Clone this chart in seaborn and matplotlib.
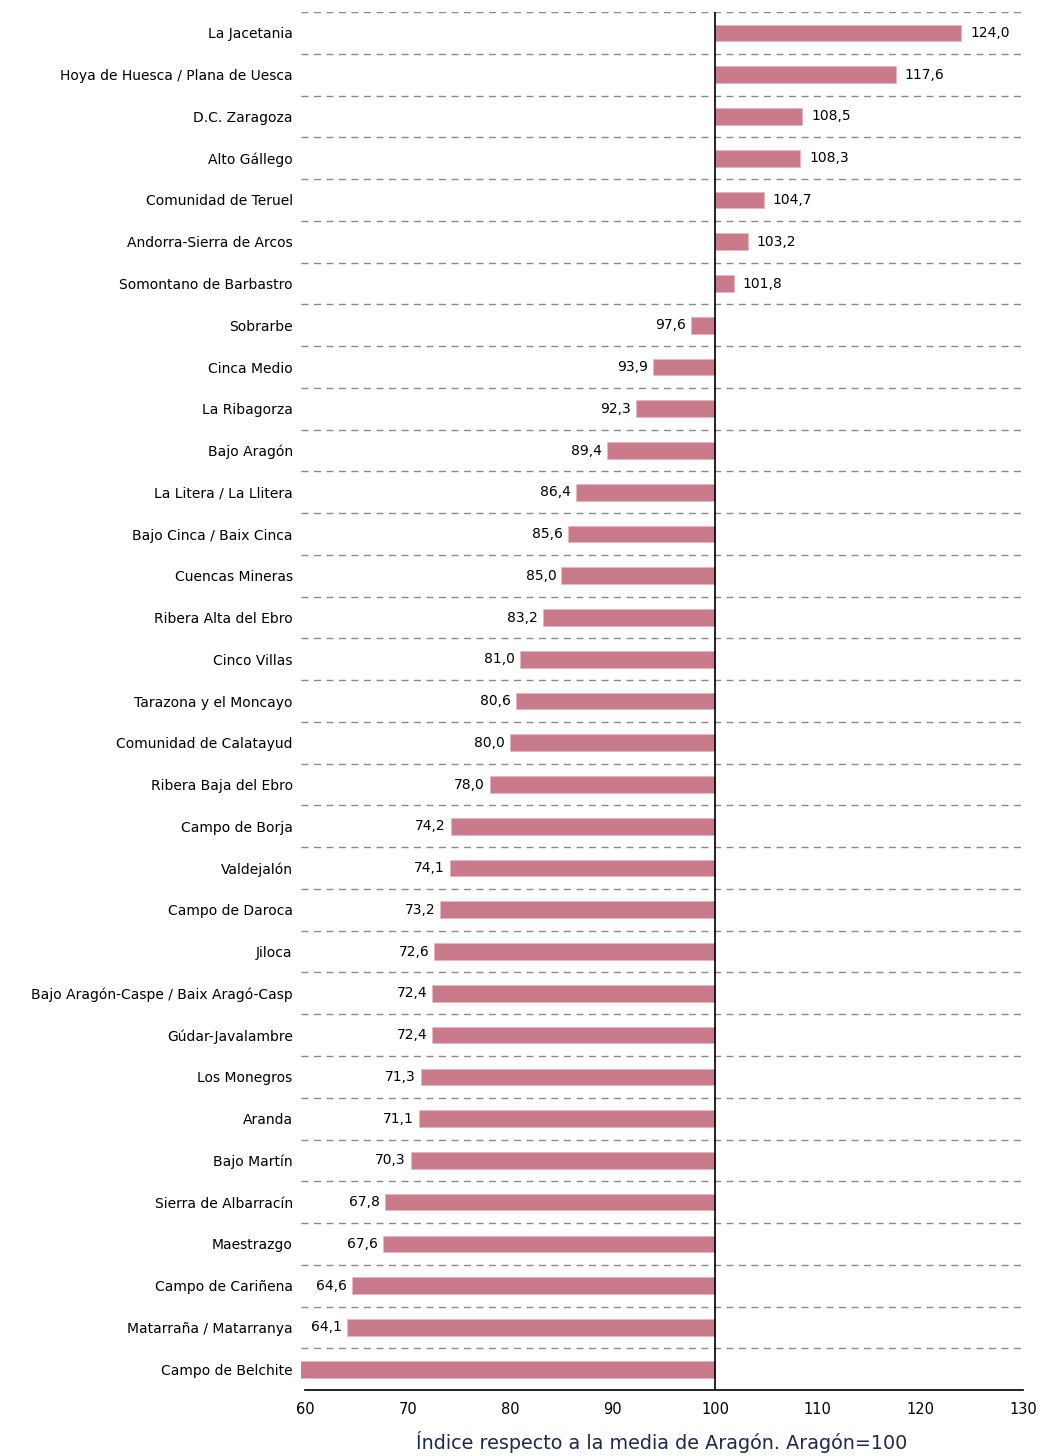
import numpy as np
import pandas as pd
import matplotlib
matplotlib.use("Agg")
import matplotlib.pyplot as plt
import seaborn as sns

# Data
comarcas = [
    "La Jacetania", "Hoya de Huesca / Plana de Uesca", "D.C. Zaragoza",
    "Alto Gállego", "Comunidad de Teruel", "Andorra-Sierra de Arcos",
    "Somontano de Barbastro", "Sobrarbe", "Cinca Medio", "La Ribagorza",
    "Bajo Aragón", "La Litera / La Llitera", "Bajo Cinca / Baix Cinca",
    "Cuencas Mineras", "Ribera Alta del Ebro", "Cinco Villas",
    "Tarazona y el Moncayo", "Comunidad de Calatayud", "Ribera Baja del Ebro",
    "Campo de Borja", "Valdejalón", "Campo de Daroca", "Jiloca",
    "Bajo Aragón-Caspe / Baix Aragó-Casp", "Gúdar-Javalambre", "Los Monegros",
    "Aranda", "Bajo Martín", "Sierra de Albarracín", "Maestrazgo",
    "Campo de Cariñena", "Matarraña / Matarranya", "Campo de Belchite",
]
indice = [
    124.0, 117.6, 108.5, 108.3, 104.7, 103.2, 101.8, 97.6, 93.9, 92.3,
    89.4, 86.4, 85.6, 85.0, 83.2, 81.0, 80.6, 80.0, 78.0, 74.2,
    74.1, 73.2, 72.6, 72.4, 72.4, 71.3, 71.1, 70.3, 67.8, 67.6,
    64.6, 64.1, 58.0,
]
base = 100
xticks = [60, 70, 80, 90, 100, 110, 120, 130]

df = pd.DataFrame({"comarca": comarcas, "indice": indice})
df["desvio"] = df["indice"] - base

bar_color = "#C97B8C"

sns.set_style("white")
plt.rcParams["font.family"] = ["DejaVu Sans"]

fig = plt.figure(figsize=(10.43, 14.56), dpi=100)
ax = fig.add_axes([0.2886, 0.0453, 0.6922, 0.9464])

sns.barplot(data=df, x="desvio", y="comarca", orient="h", color=bar_color,
            width=0.4, left=base, edgecolor="#E8B8C2", linewidth=0.6,
            saturation=1, ax=ax)

n = len(comarcas)
xmin, xmax = 59.6, 130
ax.set_xlim(xmin, xmax)
ax.set_ylim(n - 0.5, -0.5)

# dashed separators between categories
ax.set_yticks(np.arange(-0.5, n - 1, 1.0), minor=True)
ax.grid(False)
ax.grid(which="minor", axis="y", color="#8a8a8a", linestyle=(0, (5, 4)), linewidth=1)
ax.tick_params(axis="y", which="both", length=0, labelsize=10, pad=6, labelcolor="black")
ax.tick_params(axis="x", which="major", length=5, width=1.2, direction="out",
               labelsize=10.5, colors="black")
ax.set_xticks(xticks)
ax.set_xticklabels([str(t) for t in xticks])

for s in ["top", "right", "left"]:
    ax.spines[s].set_visible(False)
ax.spines["bottom"].set_color("black")
ax.spines["bottom"].set_linewidth(1.2)
ax.spines["bottom"].set_bounds(60, 130)

ax.axvline(base, color="black", linewidth=1.2, zorder=3)

# value labels (bars that run past the axis get no label)
for i, v in enumerate(indice):
    txt = f"{v:.1f}".replace(".", ",")
    if v >= base:
        ax.text(v + 0.85, i, txt, ha="left", va="center", fontsize=10, color="black")
    elif v > xmin + 3:
        ax.text(v - 0.5, i, txt, ha="right", va="center", fontsize=10, color="black")

ax.set_ylabel("")
ax.set_xlabel("Índice respecto a la media de Aragón. Aragón=100",
              fontsize=13.8, color="#1c2b4c", labelpad=10)

fig.savefig("out.png", dpi=100)
plt.close()
